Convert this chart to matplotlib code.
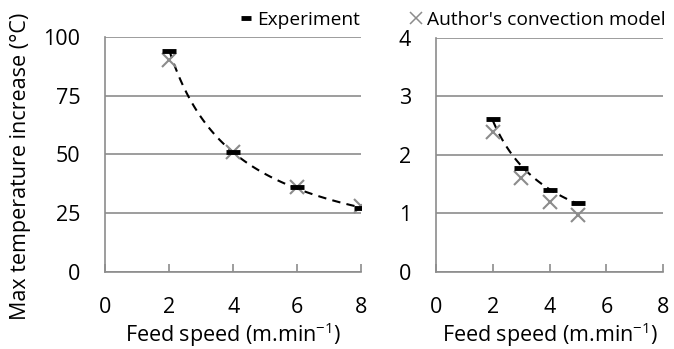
import numpy as np
import matplotlib.pyplot as plt
from matplotlib.lines import Line2D

plt.rcParams['font.family'] = ['Open Sans', 'DejaVu Sans']
plt.rcParams['mathtext.default'] = 'regular'

# left panel data
speed_a = [2, 4, 6, 8]
exp_a = [94, 51, 36, 27]
model_a = [90, 51, 36, 28]

# right panel data
speed_b = [2, 3, 4, 5]
exp_b = [2.62, 1.78, 1.40, 1.18]
model_b = [2.40, 1.60, 1.20, 0.97]

grey = '#8c8c8c'
fs = 15.5
lfs = 13.8


def power_fit(x, y):
    # Excel-style power trendline through the experiment points
    b, ln_a = np.polyfit(np.log(x), np.log(y), 1)
    xs = np.linspace(min(x), max(x), 100)
    return xs, np.exp(ln_a) * xs ** b


def style_axes(ax, ymax, ystep):
    ax.set_xlim(0, 8)
    ax.set_ylim(0, ymax)
    ax.set_xticks([0, 2, 4, 6, 8])
    ax.set_yticks(np.arange(0, ymax + ystep / 2, ystep))
    ax.yaxis.grid(True, color=grey, linewidth=1.2)
    ax.set_axisbelow(True)
    for s in ['top', 'right']:
        ax.spines[s].set_visible(False)
    for s in ['left', 'bottom']:
        ax.spines[s].set_color(grey)
        ax.spines[s].set_linewidth(1.2)
    ax.tick_params(axis='x', direction='in', length=6, color=grey, width=1.2,
                   labelsize=fs, pad=18)
    ax.tick_params(axis='y', length=0, labelsize=fs, pad=18)
    ax.set_xlabel('Feed speed (m.min$^{-1}$)', fontsize=fs, labelpad=2)


fig = plt.figure(figsize=(6.74, 3.49), dpi=100)
ax1 = fig.add_axes([0.156, 0.221, 0.380, 0.673])
ax2 = fig.add_axes([0.647, 0.221, 0.337, 0.670])

for ax, x, e, m in [(ax1, speed_a, exp_a, model_a), (ax2, speed_b, exp_b, model_b)]:
    xs, ys = power_fit(x, e)
    ax.plot(xs, ys, '--', color='black', linewidth=1.5, dashes=(4, 3), zorder=3)
    ax.plot(x, m, linestyle='none', marker='x', color=grey, markersize=10,
            markeredgewidth=1.5, zorder=4)
    ax.plot(x, e, linestyle='none', marker='_', color='black', markersize=10,
            markeredgewidth=3.5, zorder=5)

style_axes(ax1, 100, 25)
style_axes(ax2, 4, 1)
ax1.set_ylabel('Max temperature increase (°C)', fontsize=fs)
ax1.yaxis.set_label_coords(-0.29, 0.45)

h_exp = Line2D([], [], linestyle='none', marker='_', color='black', markersize=7,
               markeredgewidth=3.5)
h_mod = Line2D([], [], linestyle='none', marker='x', color=grey, markersize=8,
               markeredgewidth=1.1)
for h, lab, x0 in [(h_exp, 'Experiment', 0.357), (h_mod, "Author's convection model", 0.6087)]:
    fig.legend([h], [lab], loc='center left', bbox_to_anchor=(x0, 0.943),
               frameon=False, fontsize=lfs, handlelength=0.6, handletextpad=0.25,
               borderpad=0, borderaxespad=0)

fig.savefig('out.png', dpi=100)
